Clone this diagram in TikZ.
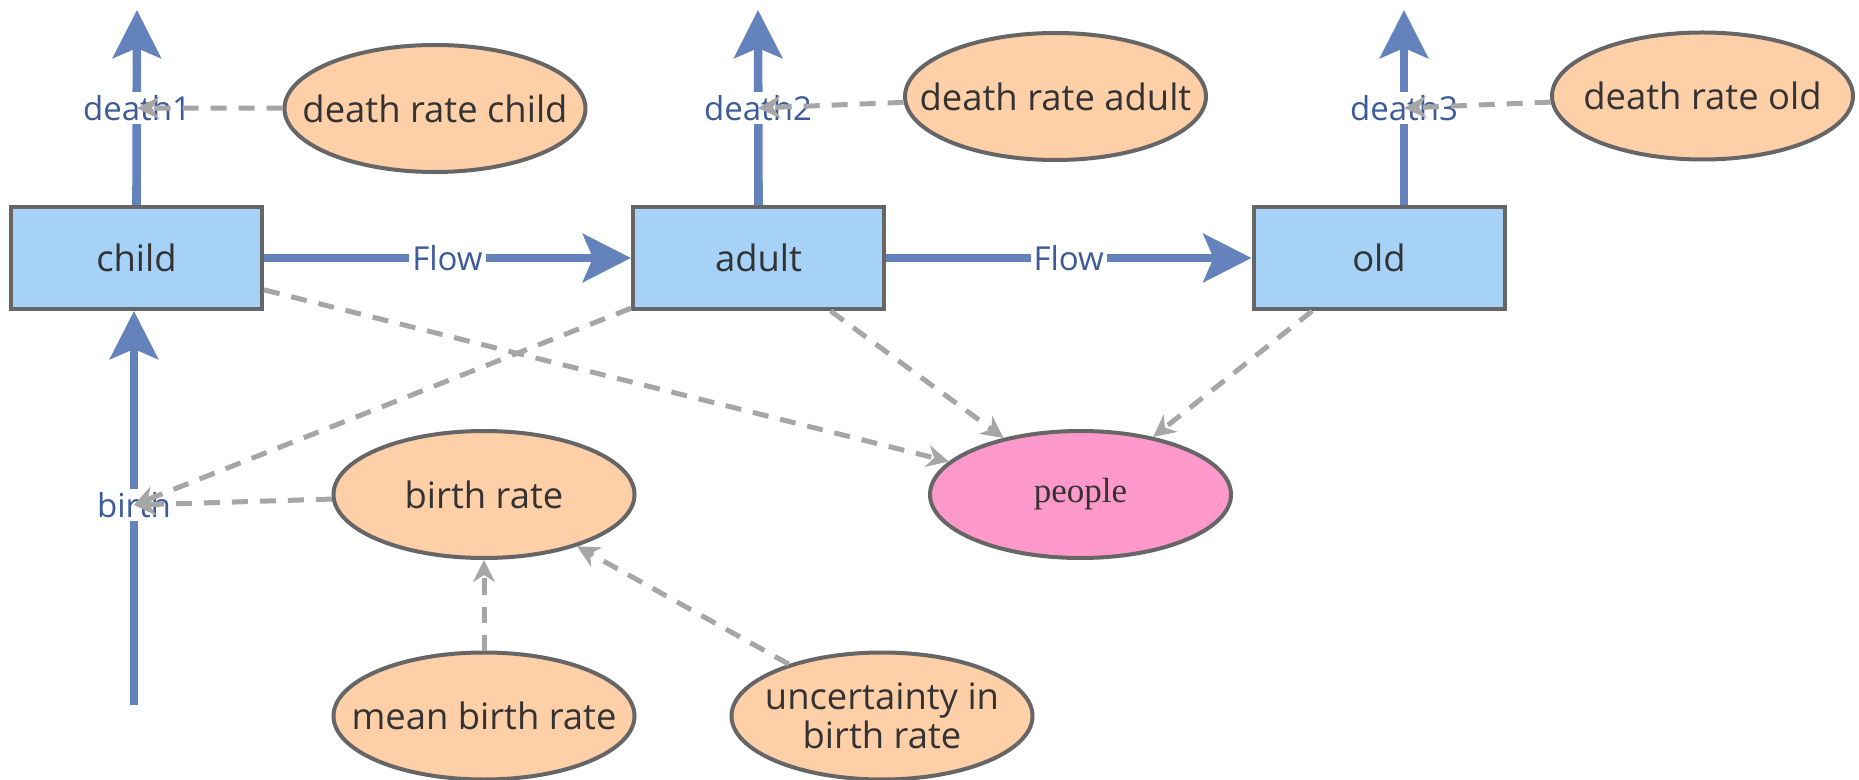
\documentclass[tikz,border=0pt]{standalone}
\usepackage{fontspec}
\setmainfont{Open Sans}
\newfontfamily\peoplefont{Liberation Serif}
\usetikzlibrary{arrows.meta,shapes.geometric,calc}
\definecolor{boxfill}{HTML}{A6D2F8}
\definecolor{edgegray}{HTML}{666666}
\definecolor{peach}{HTML}{FFCFA8}
\definecolor{peoplefill}{HTML}{FF99CC}
\definecolor{flowblue}{HTML}{6482BC}
\definecolor{labelblue}{HTML}{3D5A99}
\definecolor{linkgray}{HTML}{A6A6A6}
\definecolor{textdark}{HTML}{333333}
\begin{document}
\begin{tikzpicture}[x=0.5pt,y=-0.5pt,
  stock/.style={rectangle, draw=edgegray, line width=2pt, fill=boxfill,
    minimum width=125.5pt, minimum height=51pt, inner sep=0pt,
    font=\fontsize{18.2}{21}\selectfont, text=textdark},
  aux/.style={ellipse, draw=edgegray, line width=2pt, fill=peach,
    minimum width=150.5pt, minimum height=63.5pt, inner xsep=-16pt, inner ysep=0pt,
    align=center, font=\fontsize{18.2}{19.5}\selectfont, text=textdark},
  target/.style={aux, fill=peoplefill, font=\peoplefont\fontsize{17.5}{20}\selectfont},
  flowlabel/.style={fill=white, inner sep=1.5pt, text=labelblue,
    font=\fontsize{16.5}{20}\selectfont},
  flowline/.style={draw=flowblue, line width=4.3pt,
    -{Stealth[length=24pt,width=24pt,inset=5pt]}},
  link/.style={draw=linkgray, line width=2.5pt, dash pattern=on 8pt off 6pt,
    -{Stealth[length=11pt,width=11pt,inset=3.5pt]}}
]
\useasboundingbox (0,0) rectangle (1859,780);

% stocks
\node[stock] (child) at (136.5,258) {child};
\node[stock] (adult) at (758.5,258) {adult};
\node[stock] (old) at (1379,258) {old};

% auxiliaries
\node[aux] (drc) at (435,108.5) {death rate child};
\node[aux] (dra) at (1055.5,96.5) {death rate adult};
\node[aux] (dro) at (1702.5,96) {death rate old};
\node[aux] (br) at (484,494.5) {birth rate};
\node[aux] (mbr) at (484,716) {mean birth rate};
\node[aux] (ubr) at (882,716) {uncertainty in\\birth rate};
\node[target] (people) at (1080.5,494.5) {people};

% flow end points
\coordinate (t1) at (137,10);
\coordinate (t2) at (758,10);
\coordinate (t3) at (1404,10);
\coordinate (bsrc) at (134,705);

% flows
\draw[flowline] (child) -- (adult) node[flowlabel, midway] (f1) {Flow};
\draw[flowline] (adult) -- (old) node[flowlabel, midway] (f2) {Flow};
\draw[flowline] (child.north) -- (t1);
\draw[flowline] (adult.north) -- (t2);
\draw[flowline] (t3 |- old.north) -- (t3);
\draw[flowline] (bsrc) -- (bsrc |- child.south);

% valve labels
\node[flowlabel] (d1) at (137,108) {death1};
\node[flowlabel] (d2) at (758,108) {death2};
\node[flowlabel] (d3) at (1404,108) {death3};
\node[flowlabel] (bl) at (134,505) {birth};

% links
\draw[link] (drc) -- (d1.center);
\draw[link] (dra) -- (d2.center);
\draw[link] (dro) -- (d3.center);
\draw[link] (br) -- (bl.center);
\draw[link] (adult) -- (bl.center);
\draw[link] (child) -- (people);
\draw[link] (adult) -- (people);
\draw[link] (old) -- (people);
\draw[link] (mbr) -- (br);
\draw[link] (ubr) -- (br);
\end{tikzpicture}
\end{document}
